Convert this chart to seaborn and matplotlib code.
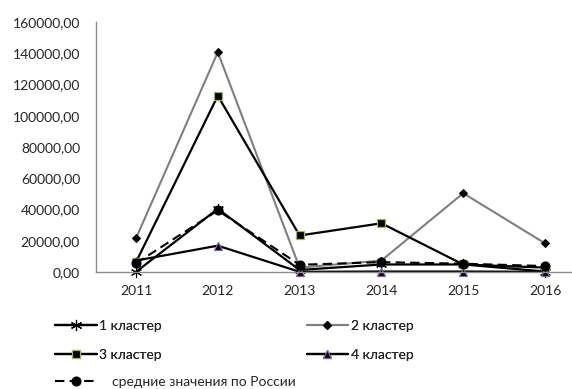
import matplotlib
matplotlib.use("Agg")
import matplotlib.pyplot as plt
from matplotlib.ticker import FuncFormatter
import seaborn as sns
import pandas as pd

years = [2011, 2012, 2013, 2014, 2015, 2016]

cluster1 = [300, 40500, 1500, 5000, 5000, 500]
cluster2 = [21700, 140500, 3000, 7500, 50500, 18500]
cluster3 = [6500, 112700, 23500, 31300, 5000, 3000]
cluster4 = [7500, 17000, 300, 500, 500, 300]
russia_avg = [5700, 39500, 4800, 6500, 5500, 4000]

labels = ["1 кластер", "2 кластер", "3 кластер", "4 кластер",
          "средние значения по России"]
series = [cluster1, cluster2, cluster3, cluster4, russia_avg]

styles = {
    "1 кластер": dict(color="black", marker=(6, 2, 0), markersize=8,
                      markeredgecolor="black", markeredgewidth=0.8, lw=1.6),
    "2 кластер": dict(color="#7f7f7f", marker="D", markersize=4.5,
                      markerfacecolor="black", markeredgecolor="black", lw=1.5),
    "3 кластер": dict(color="black", marker="s", markersize=5.5,
                      markerfacecolor="black", markeredgecolor="#9bbb59",
                      markeredgewidth=0.9, lw=1.6),
    "4 кластер": dict(color="black", marker="^", markersize=5.5,
                      markerfacecolor="black", markeredgecolor="#8064a2",
                      markeredgewidth=0.9, lw=1.6),
    "средние значения по России": dict(color="black", marker="o", markersize=6.5,
                                        markerfacecolor="black",
                                        markeredgecolor="black",
                                        linestyle=(0, (4.5, 2.5)), lw=1.5),
}

df = pd.DataFrame({
    "year": years * len(labels),
    "value": [v for s in series for v in s],
    "series": [lab for lab in labels for _ in years],
})

sns.set_theme(style="white")
plt.rcParams["font.family"] = ["Lato", "DejaVu Sans"]

fig = plt.figure(figsize=(5.72, 3.89), dpi=100)
W, H = 572, 389
ax_left, ax_right = 96, 572
ax_top, ax_bottom = 21.7, 272.3
ax = fig.add_axes([ax_left / W, (H - ax_bottom) / H,
                   (ax_right - ax_left) / W, (ax_bottom - ax_top) / H])

handles = {}
for lab in labels:
    sub = df[df["series"] == lab]
    sns.lineplot(data=sub, x="year", y="value", ax=ax, label=lab,
                 clip_on=False, **styles[lab])
    handles[lab] = ax.get_lines()[-1]

step = 81.8
x0_px = 136
ax.set_xlim(2011 - (x0_px - ax_left) / step, 2011 + (ax_right - x0_px) / step)
ax.set_ylim(0, 160000)
ax.set_yticks(range(0, 160001, 20000))
ax.set_xticks(years)
ax.set_xticklabels([str(y) for y in years])
ax.yaxis.set_major_formatter(
    FuncFormatter(lambda v, p: f"{v:.2f}".replace(".", ",")))
ax.set_xlabel("")
ax.set_ylabel("")

for side in ("top", "right"):
    ax.spines[side].set_visible(False)
for side in ("left", "bottom"):
    ax.spines[side].set_color("#8c8c8c")
    ax.spines[side].set_linewidth(1.0)

ax.tick_params(axis="both", length=0, labelsize=10, colors="#262626")
ax.tick_params(axis="y", pad=11.5)
ax.tick_params(axis="x", pad=9)
ax.grid(False)

if ax.get_legend() is not None:
    ax.get_legend().remove()

# clusters legend: two columns, two rows
order = ["1 кластер", "3 кластер", "2 кластер", "4 кластер"]
leg1 = fig.legend([handles[k] for k in order], order, ncol=2,
                  loc="upper left", bbox_to_anchor=(55 / W, (H - 320) / H),
                  frameon=False, fontsize=10, handlelength=3.0,
                  handletextpad=0.2, columnspacing=10.4, labelspacing=1.2,
                  borderaxespad=0, borderpad=0, labelcolor="#262626")
fig.add_artist(leg1)

# national average legend on its own row
fig.legend([handles["средние значения по России"]],
           ["средние значения по России"],
           loc="upper left", bbox_to_anchor=(55 / W, (H - 376) / H),
           frameon=False, fontsize=10, handlelength=3.0,
           handletextpad=1.1, borderaxespad=0, borderpad=0,
           labelcolor="#262626")

fig.savefig("out.png", dpi=100)
